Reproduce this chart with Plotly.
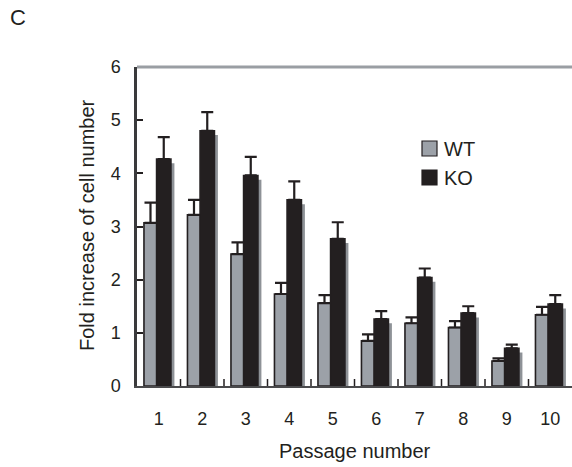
import plotly.graph_objects as go

tick_labels = ["1", "2", "3", "4", "5", "6", "7", "8", "9", "10"]
wt_values = [3.07, 3.22, 2.48, 1.73, 1.56, 0.85, 1.18, 1.10, 0.47, 1.34]
wt_errors = [0.38, 0.28, 0.22, 0.21, 0.15, 0.12, 0.11, 0.12, 0.05, 0.15]
ko_values = [4.27, 4.80, 3.96, 3.50, 2.77, 1.26, 2.04, 1.37, 0.71, 1.54]
ko_errors = [0.41, 0.35, 0.35, 0.35, 0.31, 0.15, 0.17, 0.13, 0.07, 0.17]
legend_names = ["WT", "KO"]

INK = "#231f20"
WT_FILL = "#9ca1a8"
SHADOW = "#8e9297"
FONT = "Liberation Sans, Arial, sans-serif"

PL, PT, PW, PH = 137, 67, 435, 319  # plot area in pixels


def px(x):
    return (x - PL) / PW


def py(y):
    return (PT + PH - y) / PH


fig = go.Figure()

# shadow behind KO bars
fig.add_trace(go.Bar(
    x=tick_labels, y=ko_values, base=-0.08, width=0.33, offset=0.03,
    marker=dict(color=SHADOW, line=dict(width=0)),
    showlegend=False, hoverinfo="skip",
))
fig.add_trace(go.Bar(
    name="WT", x=tick_labels, y=wt_values, width=0.30, offset=-0.34,
    marker=dict(color=WT_FILL, line=dict(color=INK, width=1.6)),
    error_y=dict(type="data", array=wt_errors, arrayminus=[0] * len(wt_errors),
                 symmetric=False, color=INK, thickness=2.2, width=6),
    showlegend=False,
))
fig.add_trace(go.Bar(
    name="KO", x=tick_labels, y=ko_values, width=0.33, offset=-0.05,
    marker=dict(color=INK, line=dict(color=INK, width=1.6)),
    error_y=dict(type="data", array=ko_errors, arrayminus=[0] * len(ko_errors),
                 symmetric=False, color=INK, thickness=2.2, width=6),
    showlegend=False,
))

shapes = [dict(type="line", xref="paper", yref="paper", x0=0, x1=1, y0=1, y1=1,
               line=dict(color="#9a9ea3", width=3))]
# category-boundary tick marks on the x axis (pointing up into the plot)
for i in range(len(tick_labels) - 1):
    shapes.append(dict(type="line", xref="x", yref="paper", ysizemode="pixel", yanchor=0,
                       x0=i + 0.5, x1=i + 0.5, y0=0, y1=7,
                       line=dict(color=INK, width=1.5), layer="above"))

annotations = [
    dict(text="C", xref="paper", yref="paper", x=px(8), y=py(17),
         xanchor="left", yanchor="middle", showarrow=False, font=dict(size=22, color=INK)),
    dict(text="Fold increase of cell number", xref="paper", yref="paper",
         x=px(87), y=py(225), textangle=-90,
         xanchor="center", yanchor="middle", showarrow=False, font=dict(size=20, color=INK)),
    dict(text="Passage number", xref="paper", yref="paper",
         x=px(355), y=py(451), xanchor="center", yanchor="middle",
         showarrow=False, font=dict(size=20, color=INK)),
]
# manual legend (squares + labels)
legend_fills = [WT_FILL, INK]
for i, (name, fill) in enumerate(zip(legend_names, legend_fills)):
    top = 141 + i * 29
    shapes.append(dict(type="rect", xref="paper", yref="paper",
                       x0=px(422), x1=px(437), y0=py(top + 15), y1=py(top),
                       fillcolor=fill, line=dict(color=INK, width=1.2)))
    annotations.append(dict(text=name, xref="paper", yref="paper", x=px(442), y=py(top + 8),
                            xanchor="left", yanchor="middle", showarrow=False,
                            font=dict(size=20, color=INK)))

fig.update_layout(
    width=572, height=467,
    margin=dict(l=PL, r=572 - PL - PW, t=PT, b=467 - PT - PH),
    barmode="overlay",
    plot_bgcolor="white", paper_bgcolor="white",
    font=dict(family=FONT, color=INK),
    showlegend=False,
    xaxis=dict(
        type="category", range=[-0.5, 9.5],
        showline=True, linecolor="#4a4a4c", linewidth=2,
        ticks="",
        showgrid=False, zeroline=False, tickfont=dict(size=18, color=INK),
        ticklabelstandoff=15,
    ),
    yaxis=dict(
        range=[0, 6], tickvals=[0, 1, 2, 3, 4, 5, 6],
        showline=True, linecolor="#3a3a3c", linewidth=2.5, ticks="inside", ticklen=6,
        tickcolor=INK, tickwidth=1.5,
        showgrid=False, zeroline=False, tickfont=dict(size=18, color=INK),
        ticklabelstandoff=10,
    ),
    shapes=shapes,
    annotations=annotations,
)

fig.write_html("out.html", config={"displayModeBar": False},
               post_script="document.body.style.margin='0';document.body.style.padding='0';")
